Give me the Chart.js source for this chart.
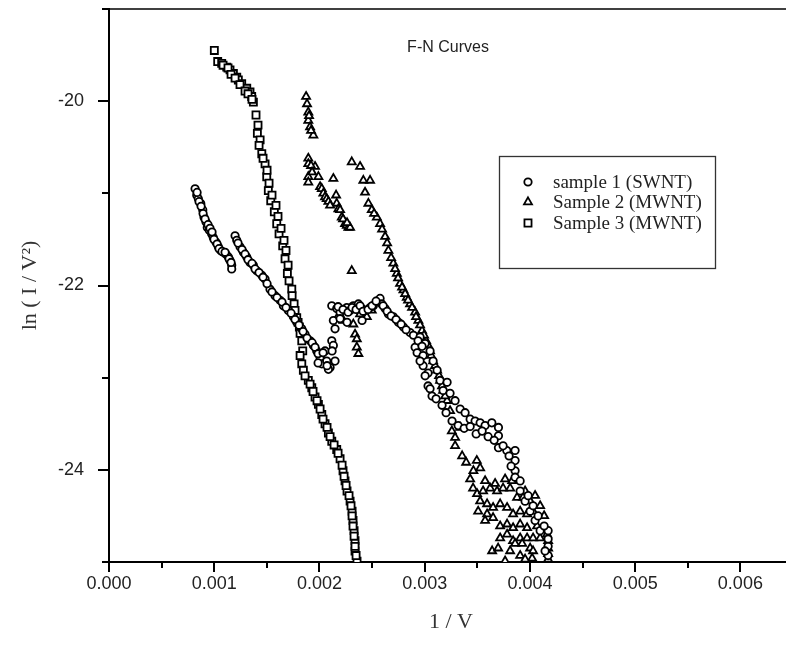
<!DOCTYPE html>
<html>
<head>
<meta charset="utf-8">
<script src="https://cdn.jsdelivr.net/npm/chart.js@4.4.1/dist/chart.umd.min.js"></script>
<style>
html,body{margin:0;padding:0;background:#fff;overflow:hidden;}
#wrap{width:786px;height:647px;overflow:hidden;position:relative;}
canvas{display:block;}
</style>
</head>
<body>
<div id="wrap"><canvas id="c" width="800" height="647"></canvas></div>
<script>
// ---- data ----
const chartTitle = 'F-N Curves';
const xTitle = '1 / V';
const yTitle = 'ln ( I / V\u00B2)';
const seriesNames = ['sample 1 (SWNT)', 'Sample 2 (MWNT)', 'Sample 3 (MWNT)'];
const xMajorTicks = [0, 0.001, 0.002, 0.003, 0.004, 0.005, 0.006];
const xMinorTicks = [0.0005, 0.0015, 0.0025, 0.0035, 0.0045, 0.0055, 0.0065];
const yMajorTicks = [-24, -22, -20];
const yMinorTicks = [-25, -23, -21, -19];
const xRange = [0, 0.0065];
const yRange = [-25, -19];

// sample 1 (SWNT) - circles
const sample1X = [0.000818,0.000834,0.000849,0.000872,0.000891,0.000903,0.000922,0.000934,0.000953,0.000976,0.000991,0.001017,0.001039,0.001062,0.001087,0.001112,0.001134,0.001150,0.001166,0.001166,
0.000837,0.000856,0.000875,0.000894,0.000913,0.000941,0.000960,0.000979,0.000998,0.001027,0.001046,0.001074,0.001103,0.001141,0.001160,
0.001198,0.001214,0.001245,0.001277,0.001309,0.001340,0.001372,0.001404,0.001452,0.001483,0.001530,0.001578,0.001625,0.001657,0.001704,0.001752,0.001784,0.001832,0.001863,0.001911,0.001942,0.001974,0.002006,0.002022,0.002053,0.002069,0.002101,0.002085,0.002117,0.002132,0.002132,0.002148,
0.001226,0.001264,0.001293,0.001321,0.001359,0.001388,0.001426,0.001464,0.001502,0.001549,0.001597,0.001644,0.001682,0.001730,0.001768,0.001806,0.001844,0.001882,0.001930,0.001958,0.001987,
0.001987,0.002034,0.002072,0.002120,0.002148,
0.002117,0.002164,0.002196,0.002260,0.002291,0.002322,0.002370,0.002402,0.002433,0.002481,0.002512,0.002560,0.002576,0.002592,0.002624,0.002655,0.002702,0.002750,0.002798,0.002861,0.002893,0.002909,0.002956,0.003004,
0.002177,0.002224,0.002272,0.002310,0.002348,0.002386,0.002414,0.002462,0.002500,0.002538,0.002605,0.002643,0.002681,0.002728,0.002776,0.002823,0.002937,0.002975,
0.002196,0.002262,0.002405,
0.002928,0.002985,0.002985,0.003032,0.003032,0.003070,
0.003051,0.003080,0.003118,0.003146,0.003175,0.003213,0.003241,0.003289,0.003337,0.003384,0.003432,0.003479,0.003527,0.003574,0.003638,0.003701,0.003701,0.003701,0.003780,0.003859,0.003859,0.003859,0.003859,0.003907,0.003954,0.004002,0.004049,0.004097,0.004173,0.004173,0.004173,
0.002956,0.003004,0.003051,0.003108,0.003165,0.003203,0.003260,0.003318,0.003375,0.003432,0.003489,0.003546,0.003603,0.003660,0.003745,0.003802,0.003821,0.003907,0.003983,0.004030,0.004078,0.004135,0.004173,0.004144];
const sample1Y = [-20.95,-21.02,-21.06,-21.11,-21.18,-21.26,-21.31,-21.37,-21.40,-21.44,-21.48,-21.53,-21.58,-21.62,-21.64,-21.66,-21.69,-21.73,-21.78,-21.82,
-20.99,-21.09,-21.14,-21.22,-21.28,-21.34,-21.38,-21.42,-21.50,-21.55,-21.60,-21.63,-21.64,-21.71,-21.75,
-21.46,-21.51,-21.58,-21.64,-21.69,-21.75,-21.78,-21.84,-21.89,-21.93,-22.04,-22.11,-22.16,-22.22,-22.27,-22.34,-22.40,-22.47,-22.53,-22.60,-22.65,-22.71,-22.78,-22.85,-22.71,-22.82,-22.89,-22.91,-22.60,-22.65,-22.38,-22.47,
-21.54,-21.61,-21.66,-21.72,-21.76,-21.82,-21.86,-21.91,-21.98,-22.07,-22.13,-22.18,-22.24,-22.30,-22.37,-22.43,-22.50,-22.57,-22.62,-22.67,-22.74,
-22.84,-22.73,-22.87,-22.71,-22.82,
-22.22,-22.25,-22.29,-22.24,-22.27,-22.22,-22.20,-22.25,-22.27,-22.24,-22.22,-22.16,-22.14,-22.20,-22.25,-22.31,-22.34,-22.40,-22.45,-22.51,-22.54,-22.67,-22.56,-22.63,
-22.23,-22.26,-22.29,-22.24,-22.26,-22.22,-22.28,-22.26,-22.22,-22.17,-22.22,-22.28,-22.33,-22.37,-22.42,-22.48,-22.60,-22.66,
-22.36,-22.40,-22.38,
-22.73,-22.76,-22.87,-22.95,-23.09,-23.20,
-22.71,-22.82,-22.92,-23.03,-23.14,-23.05,-23.17,-23.25,-23.34,-23.38,-23.45,-23.47,-23.49,-23.52,-23.49,-23.54,-23.63,-23.76,-23.79,-23.79,-23.90,-24.01,-24.08,-24.23,-24.34,-24.45,-24.55,-24.66,-24.66,-24.83,-24.93,
-22.82,-22.98,-23.12,-23.23,-23.30,-23.38,-23.47,-23.52,-23.55,-23.53,-23.61,-23.58,-23.64,-23.68,-23.74,-23.85,-23.96,-24.12,-24.28,-24.39,-24.50,-24.61,-24.75,-24.88];

// Sample 2 (MWNT) - triangles
const sample2X = [0.001873,0.001894,0.001894,0.001911,0.001942,0.001882,0.001901,0.001920,
0.001894,0.001894,0.001894,0.001894,0.001958,0.001990,0.002006,0.002022,0.002037,0.002053,0.002069,0.002085,0.002132,0.002158,0.002164,0.002180,0.002196,0.002212,0.002243,0.002260,0.002275,0.002291,
0.001920,0.001930,0.002101,0.002224,0.002262,
0.002307,
0.002307,0.002386,0.002417,0.002481,0.002433,0.002465,0.002497,0.002545,0.002576,0.002624,0.002655,0.002702,0.002735,0.002766,0.002798,0.002830,0.002861,0.002909,0.002940,0.002975,0.003013,0.003051,0.003080,0.003118,0.003146,0.003175,0.003213,0.003241,
0.002519,0.002595,0.002643,0.002681,0.002719,0.002747,0.002785,0.002814,0.002842,0.002880,0.002918,0.002956,0.002994,0.003032,0.003061,0.003099,0.003137,0.003165,0.003194,
0.002180,0.002227,0.002291,0.002322,0.002338,0.002355,0.002355,0.002370,0.002386,0.002450,0.002497,
0.003258,0.003289,0.003337,0.003463,0.003495,0.003527,0.003289,0.003356,0.003394,
0.003460,0.003498,0.003555,0.003622,0.003688,0.003745,0.003812,0.003878,0.003935,0.004002,0.003527,0.003593,0.003650,0.003717,0.003783,0.003840,0.003907,0.003973,0.004030,0.003593,0.003650,0.003717,0.003783,0.003840,0.003907,0.003973,0.003717,0.003783,0.003840,0.003907,0.003973,0.004030,0.004097,0.004163,0.004173,0.004173,0.004002,0.004030,0.004173,0.004021,0.004173,0.003641,0.003698,0.003859,0.003926,
0.003432,0.003574,0.003669,0.003764,0.003831,0.003954,0.004049,0.004097,0.004135,0.004068,0.003812,0.003907,0.003764,0.003954,0.003574,0.003508];
const sample2Y = [-19.95,-20.12,-20.21,-20.28,-20.37,-20.03,-20.16,-20.32,
-20.62,-20.68,-20.82,-20.88,-20.71,-20.82,-20.93,-20.95,-21.00,-21.04,-21.06,-21.09,-20.84,-21.02,-21.11,-21.17,-21.18,-21.26,-21.33,-21.35,-21.37,-21.37,
-20.70,-20.77,-21.13,-21.28,-21.32,
-21.84,
-20.66,-20.71,-20.86,-20.86,-20.99,-21.11,-21.18,-21.26,-21.33,-21.47,-21.62,-21.76,-21.87,-21.98,-22.05,-22.13,-22.20,-22.29,-22.38,-22.49,-22.60,-22.71,-22.82,-22.92,-23.03,-23.14,-23.25,-23.36,
-21.22,-21.39,-21.54,-21.70,-21.82,-21.92,-22.02,-22.09,-22.16,-22.24,-22.34,-22.43,-22.54,-22.65,-22.76,-22.87,-22.98,-23.09,-23.20,
-22.33,-22.38,-22.25,-22.42,-22.53,-22.58,-22.67,-22.74,-22.31,-22.34,-22.27,
-23.58,-23.65,-23.54,-24.01,-23.90,-23.98,-23.74,-23.85,-23.92,
-24.20,-24.26,-24.23,-24.20,-24.23,-24.20,-24.20,-24.30,-24.30,-24.34,-24.34,-24.37,-24.41,-24.37,-24.41,-24.48,-24.45,-24.48,-24.45,-24.48,-24.52,-24.61,-24.59,-24.63,-24.59,-24.63,-24.74,-24.70,-24.77,-24.74,-24.74,-24.74,-24.74,-24.70,-24.77,-24.85,-24.85,-24.88,-24.91,-24.96,-24.97,-24.88,-24.85,-24.80,-24.80,
-24.10,-24.12,-24.15,-24.10,-24.12,-24.23,-24.28,-24.39,-24.50,-24.61,-24.88,-24.93,-24.99,-24.97,-24.55,-24.45];

// Sample 3 (MWNT) - squares
const sample3X = [0.001001,0.001033,0.001071,0.001119,0.001150,0.001182,0.001214,0.001229,0.001261,0.001309,0.001340,0.001356,0.001372,0.001397,0.001410,0.001436,0.001452,0.001483,0.001499,0.001514,0.001537,0.001571,0.001594,0.001616,0.001651,0.001673,0.001695,0.001737,0.001759,0.001784,0.001809,0.001832,0.001841,0.001832,0.001847,0.001894,0.001927,0.001958,0.001990,0.002022,0.002053,0.002085,0.002117,0.002164,0.002196,0.002224,0.002243,0.002262,0.002291,0.002310,0.002319,0.002329,0.002338,0.002338,0.002357,
0.001084,0.001131,0.001160,0.001198,0.001245,0.001293,0.001321,0.001359,
0.001416,0.001426,0.001464,0.001502,0.001521,0.001549,0.001587,0.001606,0.001635,0.001663,0.001682,0.001702,0.001711,0.001740,0.001768,0.001797,0.001816,0.001816,0.001863,0.001911,0.001939,0.001977,0.002006,0.002034,0.002072,0.002101,0.002139,0.002177,0.002215,0.002234,0.002253,0.002281,0.002300,0.002310,0.002319,0.002329,0.002338,0.002348];
const sample3Y = [-19.45,-19.57,-19.59,-19.63,-19.66,-19.70,-19.74,-19.77,-19.81,-19.86,-19.90,-19.95,-20.01,-20.15,-20.35,-20.42,-20.57,-20.68,-20.82,-20.97,-21.08,-21.20,-21.33,-21.44,-21.57,-21.71,-21.87,-22.04,-22.20,-22.35,-22.45,-22.60,-22.71,-22.85,-22.92,-23.03,-23.11,-23.21,-23.29,-23.40,-23.50,-23.60,-23.69,-23.78,-23.88,-24.01,-24.12,-24.23,-24.34,-24.45,-24.55,-24.66,-24.77,-24.88,-24.99,
-19.61,-19.64,-19.71,-19.75,-19.82,-19.89,-19.92,-19.98,
-20.26,-20.48,-20.62,-20.75,-20.89,-21.02,-21.13,-21.25,-21.38,-21.51,-21.62,-21.78,-21.95,-22.11,-22.27,-22.40,-22.52,-22.76,-22.98,-23.07,-23.15,-23.25,-23.34,-23.45,-23.54,-23.64,-23.73,-23.82,-23.95,-24.07,-24.17,-24.28,-24.39,-24.50,-24.61,-24.72,-24.83,-24.93];

const pointStyles = ['circle', 'triangle', 'rect'];
const pointSizes = [3.7, 4.6, 5.0];

function toPoints(xs, ys) { return xs.map((x, i) => ({x: x, y: ys[i]})); }

const seriesData = [toPoints(sample1X, sample1Y), toPoints(sample2X, sample2Y), toPoints(sample3X, sample3Y)];

const datasets = seriesData.map((d, i) => ({
  label: seriesNames[i],
  data: d,
  showLine: false,
  pointStyle: pointStyles[i],
  pointRadius: pointSizes[i],
  pointHoverRadius: pointSizes[i],
  pointBorderColor: '#000',
  pointBackgroundColor: '#fff',
  pointBorderWidth: 1.8
}));

const decoPlugin = {
  id: 'deco',
  afterDraw(chart) {
    const ctx = chart.ctx;
    const xs = chart.scales.x, ys = chart.scales.y;
    const area = chart.chartArea;
    ctx.save();
    ctx.strokeStyle = '#000';
    ctx.lineCap = 'butt';
    // top frame line
    ctx.lineWidth = 1.5;
    ctx.beginPath();
    ctx.moveTo(area.left, area.top);
    ctx.lineTo(chart.width, area.top);
    ctx.stroke();
    // tick marks
    ctx.lineWidth = 2;
    const drawX = (v, len) => {
      const p = Math.round(xs.getPixelForValue(v));
      ctx.beginPath(); ctx.moveTo(p, area.bottom); ctx.lineTo(p, area.bottom + len); ctx.stroke();
    };
    const drawY = (v, len) => {
      const p = Math.round(ys.getPixelForValue(v));
      ctx.beginPath(); ctx.moveTo(area.left, p); ctx.lineTo(area.left - len, p); ctx.stroke();
    };
    xMajorTicks.forEach(v => drawX(v, 10));
    xMinorTicks.forEach(v => drawX(v, 6));
    yMajorTicks.forEach(v => drawY(v, 11));
    yMinorTicks.forEach(v => drawY(v, 7));
    // chart title
    ctx.fillStyle = '#222';
    ctx.font = '16px "Liberation Sans", Arial, sans-serif';
    ctx.textAlign = 'center';
    ctx.textBaseline = 'middle';
    ctx.fillText(chartTitle, 448, 48);
    // legend box
    const lx = 499, ly = 156, lw = 216, lh = 112;
    ctx.lineWidth = 1.3;
    ctx.strokeStyle = '#333';
    ctx.strokeRect(lx + 0.5, ly + 0.5, lw, lh);
    const rows = [182, 202, 223];
    ctx.font = '19px "Liberation Serif", "Times New Roman", serif';
    ctx.textAlign = 'left';
    chart.data.datasets.forEach((ds, i) => {
      const y = rows[i];
      ctx.lineWidth = 1.8;
      ctx.strokeStyle = '#000';
      ctx.fillStyle = '#fff';
      Chart.helpers.drawPoint(ctx, {pointStyle: ds.pointStyle, radius: pointSizes[i], rotation: 0, borderWidth: 1.8}, 528, y);
      ctx.fillStyle = '#222';
      ctx.fillText(ds.label, 553, y + 1);
    });
    ctx.restore();
  }
};

new Chart(document.getElementById('c'), {
  type: 'scatter',
  data: { datasets: datasets },
  plugins: [decoPlugin],
  options: {
    responsive: false,
    animation: false,
    events: [],
    layout: { padding: { top: 9, right: 7, left: 0, bottom: 0 } },
    plugins: { legend: { display: false }, tooltip: { enabled: false }, title: { display: false } },
    scales: {
      x: {
        type: 'linear',
        min: xRange[0], max: xRange[1],
        afterBuildTicks: (s) => { s.ticks = xMajorTicks.map(v => ({value: v})); },
        afterFit: (s) => { s.height = 85; s.paddingLeft = 0; s.paddingRight = 0; },
        grid: { display: false },
        border: { display: true, color: '#000', width: 2 },
        ticks: {
          padding: 3,
          color: '#222',
          font: { family: '"Liberation Sans", Arial, sans-serif', size: 18 },
          callback: (v) => Number(v).toFixed(3),
          maxRotation: 0, autoSkip: false
        },
        title: {
          display: true, text: xTitle, color: '#333',
          font: { family: '"Liberation Serif", "Times New Roman", serif', size: 22 },
          padding: { top: 12, bottom: 12 }
        }
      },
      y: {
        type: 'linear',
        min: yRange[0], max: yRange[1],
        afterBuildTicks: (s) => { s.ticks = yMajorTicks.map(v => ({value: v})); },
        afterFit: (s) => { s.width = 109; s.paddingTop = 0; s.paddingBottom = 0; },
        grid: { display: false },
        border: { display: true, color: '#000', width: 2 },
        ticks: {
          padding: 17,
          color: '#222',
          font: { family: '"Liberation Sans", Arial, sans-serif', size: 18 },
          callback: (v) => String(v)
        },
        title: {
          display: true, text: yTitle, color: '#333',
          font: { family: '"Liberation Serif", "Times New Roman", serif', size: 22 },
          padding: { top: 17, bottom: 17 }
        }
      }
    }
  }
});
</script>
</body>
</html>
